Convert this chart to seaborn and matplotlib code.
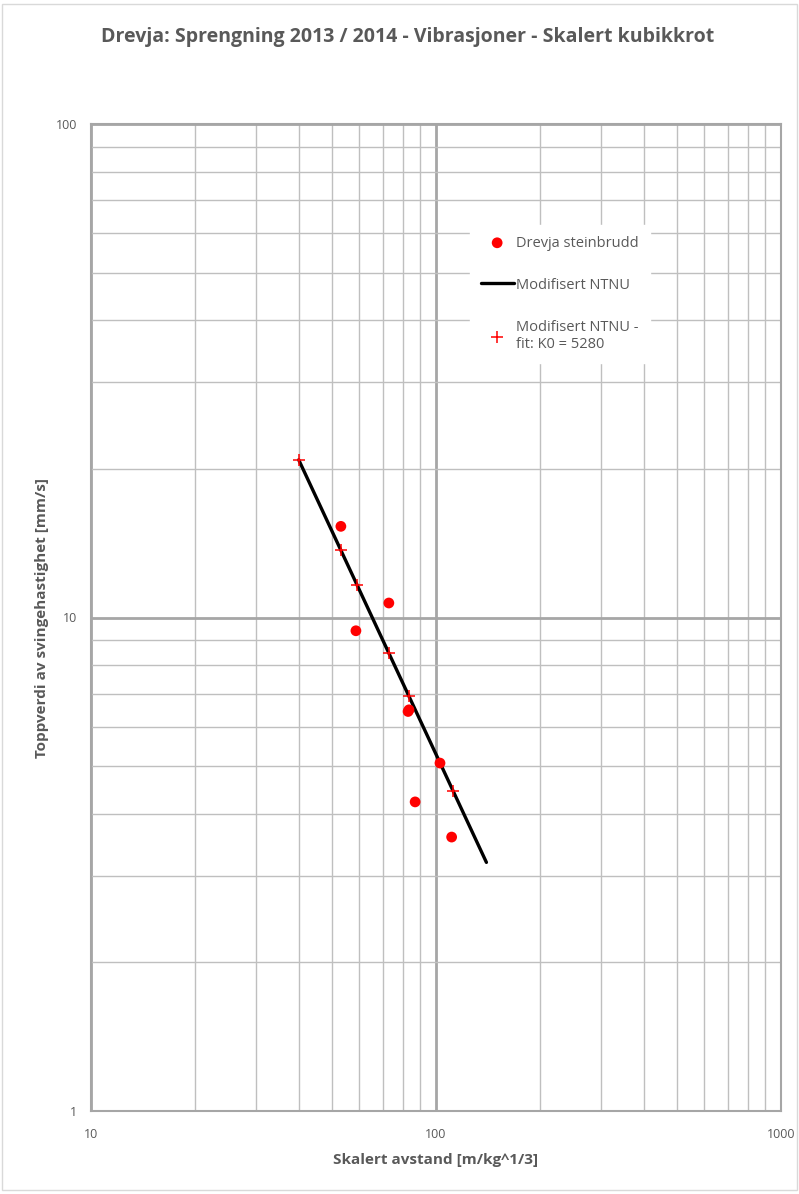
import numpy as np
import pandas as pd
import matplotlib
matplotlib.use("Agg")
import matplotlib.pyplot as plt
import seaborn as sns
from matplotlib.patches import Rectangle
from matplotlib.ticker import LogLocator, NullFormatter, FixedLocator, FixedFormatter

# measured points (Drevja steinbrudd)
meas_dist = [53.0, 73.0, 58.6, 83.0, 83.5, 102.7, 87.0, 111.0]
meas_ppv = [15.3, 10.7, 9.4, 6.45, 6.5, 5.07, 4.23, 3.59]

# Modifisert NTNU line (end points)
line_dist = [40.0, 140.0]
line_ppv = [20.87, 3.19]

# Modifisert NTNU - fit markers
fit_dist = [40.0, 53.0, 59.0, 73.0, 83.5, 112.0]
fit_ppv = [20.87, 13.68, 11.65, 8.47, 6.92, 4.45]

x_ticks = [10, 100, 1000]
y_ticks = [1, 10, 100]

sns.set_style("white")
plt.rcParams['font.family'] = ['Open Sans', 'DejaVu Sans']

grey_txt = "#595959"

fig = plt.figure(figsize=(7.99, 11.94), dpi=100)
ax = fig.add_axes([91 / 799, 1 - 1111 / 1194, (781 - 91) / 799, (1111 - 124) / 1194])

# chart border
fig.patches.append(Rectangle((0.003, 0.003), 0.994, 0.994, transform=fig.transFigure,
                             fill=False, edgecolor="#d9d9d9", linewidth=1))

df_meas = pd.DataFrame({"d": meas_dist, "v": meas_ppv})
df_line = pd.DataFrame({"d": line_dist, "v": line_ppv})
df_fit = pd.DataFrame({"d": fit_dist, "v": fit_ppv})

sns.scatterplot(data=df_meas, x="d", y="v", ax=ax, color="#ff0000", s=60,
                edgecolor="none", label="Drevja steinbrudd", zorder=4)
sns.lineplot(data=df_line, x="d", y="v", ax=ax, color="black", linewidth=2.4,
             label="Modifisert NTNU", zorder=3)
sns.scatterplot(data=df_fit, x="d", y="v", ax=ax, color="#ff0000", marker="+", s=70,
                linewidth=1.1, label="Modifisert NTNU -\nfit: K0 = 5280", zorder=5)

ax.set_xscale("log")
ax.set_yscale("log")
ax.set_xlim(10, 1000)
ax.set_ylim(1, 100)

ax.xaxis.set_major_locator(FixedLocator(x_ticks))
ax.xaxis.set_major_formatter(FixedFormatter([str(t) for t in x_ticks]))
ax.yaxis.set_major_locator(FixedLocator(y_ticks))
ax.yaxis.set_major_formatter(FixedFormatter([str(t) for t in y_ticks]))
ax.xaxis.set_minor_locator(LogLocator(base=10, subs=np.arange(2, 10)))
ax.yaxis.set_minor_locator(LogLocator(base=10, subs=np.arange(2, 10)))
ax.xaxis.set_minor_formatter(NullFormatter())
ax.yaxis.set_minor_formatter(NullFormatter())

ax.grid(True, which="major", color="#a6a6a6", linewidth=2.0, zorder=0)
ax.grid(True, which="minor", color="#bfbfbf", linewidth=1.0, zorder=0)
ax.set_axisbelow(True)
ax.tick_params(axis="both", which="both", length=0, colors=grey_txt, labelsize=9)
ax.tick_params(axis="x", pad=12)
ax.tick_params(axis="y", pad=10)
for sp in ax.spines.values():
    sp.set_color("#a6a6a6")
    sp.set_linewidth(1.5)

ax.set_xlabel("Skalert avstand [m/kg^1/3]", color=grey_txt, fontsize=11,
              fontweight="bold", labelpad=9)
ax.set_ylabel("Toppverdi av svingehastighet [mm/s]", color=grey_txt, fontsize=11,
              fontweight="bold", labelpad=5)

fig.suptitle("Drevja: Sprengning 2013 / 2014 - Vibrasjoner - Skalert kubikkrot",
             x=0.51, y=0.977, color=grey_txt, fontsize=14, fontweight="bold")

leg = ax.legend(loc="upper left", bbox_to_anchor=(0.549, 0.898), frameon=True,
                fontsize=10.5, labelcolor=grey_txt, handlelength=2.25,
                labelspacing=1.85, borderpad=0.75, borderaxespad=0,
                handletextpad=0.2)
leg.get_frame().set_facecolor("white")
leg.get_frame().set_edgecolor("white")
leg.get_frame().set_alpha(1.0)
leg.get_frame().set_boxstyle("square", pad=0)

fig.savefig("out.png", dpi=100, facecolor="white")
